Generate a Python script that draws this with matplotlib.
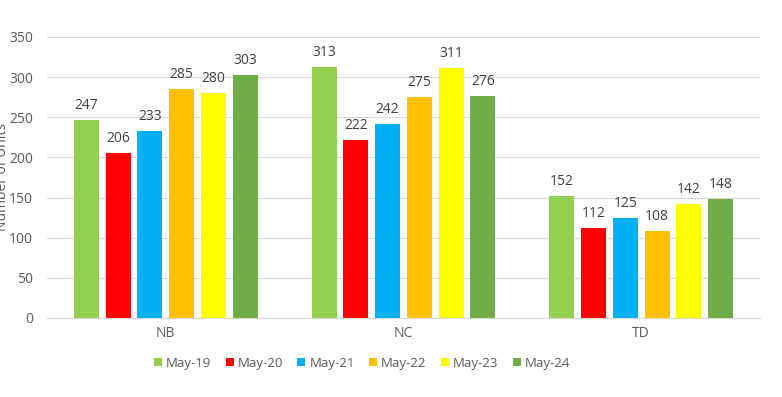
import matplotlib
matplotlib.use("Agg")
import matplotlib.pyplot as plt
import numpy as np

categories = ["NB", "NC", "TD"]
series_names = ["May-19", "May-20", "May-21", "May-22", "May-23", "May-24"]
may19 = [247, 313, 152]
may20 = [206, 222, 112]
may21 = [233, 242, 125]
may22 = [285, 275, 108]
may23 = [280, 311, 142]
may24 = [303, 276, 148]
series_values = [may19, may20, may21, may22, may23, may24]
colors = ["#92D050", "#FF0000", "#00B0F0", "#FFC000", "#FFFF00", "#70AD47"]
yticks = [0, 50, 100, 150, 200, 250, 300, 350]

plt.rcParams['font.family'] = ['Open Sans', 'DejaVu Sans']
fig = plt.figure(figsize=(7.82, 3.97), dpi=100)
ax = fig.add_axes([0.060, 0.199, 0.912, 0.708])

x = np.arange(len(categories))
step = 0.1336
width = 0.105
n = len(series_names)
for i, (name, vals, c) in enumerate(zip(series_names, series_values, colors)):
    pos = x + (i - (n - 1) / 2) * step
    bars = ax.bar(pos, vals, width=width, color=c, label=name, zorder=3)
    for b, v in zip(bars, vals):
        ax.annotate(str(v), (b.get_x() + b.get_width() / 2, v), xytext=(0, 5),
                    textcoords="offset points", ha="center", va="bottom",
                    fontsize=10, color="#404040")

ax.set_xlim(-0.5, 2.5)
ax.set_ylim(0, 350)
ax.set_yticks(yticks)
ax.set_xticks(x)
ax.set_xticklabels(categories)
ax.tick_params(axis='both', length=0, labelsize=10, colors="#595959")
ax.tick_params(axis='x', pad=6)
ax.tick_params(axis='y', pad=10)
ax.grid(axis='y', color="#D9D9D9", linewidth=0.8, zorder=0)
for s in ["top", "right", "left"]:
    ax.spines[s].set_visible(False)
ax.spines["bottom"].set_color("#D9D9D9")
ax.spines["bottom"].set_zorder(4)

fig.text(0.003, 0.553, "Number of Units", rotation=90, ha="center", va="center",
         fontsize=10, color="#595959")

ax.legend(loc="center", bbox_to_anchor=(362 / 782, 1 - 363 / 397), bbox_transform=fig.transFigure,
          ncol=6, frameon=False, fontsize=9.5, handlelength=0.6, handleheight=0.6,
          handletextpad=0.3, columnspacing=1.1, labelcolor="#595959")

fig.savefig("out.png", dpi=100)
